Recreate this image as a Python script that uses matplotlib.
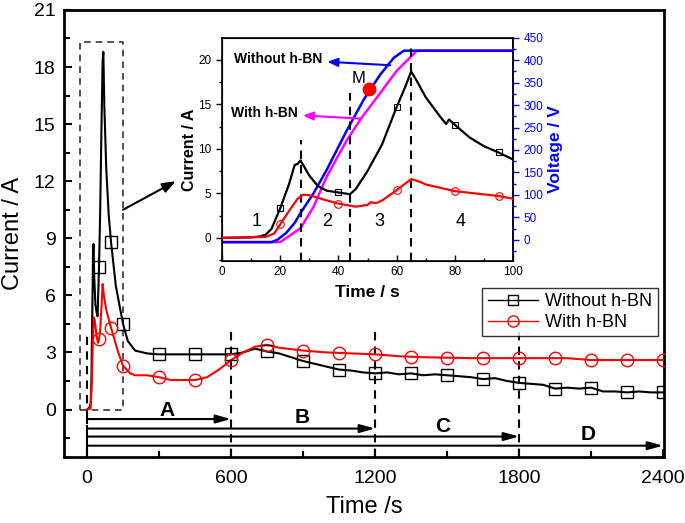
import numpy as np
import matplotlib
matplotlib.use('Agg')
import matplotlib.pyplot as plt
from matplotlib.lines import Line2D

plt.rcParams['font.family'] = ['Liberation Sans', 'DejaVu Sans']

# main curves (time in s, current in A)
tWithout = [0, 10, 15, 18, 20, 23, 25, 27, 30, 35, 40, 44, 50, 55, 60, 65, 68, 72, 80, 90, 100,
            120, 150, 170, 200, 250, 300, 400, 450, 500, 600, 650, 700, 750, 800, 900, 1000, 1050,
            1100, 1150, 1200, 1250, 1300, 1350, 1400, 1450, 1500, 1550, 1600, 1650, 1700, 1750,
            1800, 1850, 1900, 1950, 2000, 2050, 2100, 2150, 2200, 2250, 2300, 2350, 2400]
iWithout = [0, 0.1, 0.3, 1.2, 3.3, 6.0, 8.2, 8.7, 7.0, 5.5, 5.1, 4.9, 7.5, 10.5, 14.7, 18.3, 18.8, 16.0, 12.7, 10.3, 8.8,
            6.5, 4.5, 3.6, 3.1, 2.95, 2.9, 2.9, 2.9, 2.9, 2.9, 3.0, 3.2, 3.05, 2.95, 2.55, 2.25, 2.1,
            2.05, 1.95, 1.9, 1.95, 1.85, 1.9, 1.8, 1.85, 1.8, 1.75, 1.7, 1.6, 1.65, 1.5,
            1.4, 1.35, 1.3, 1.1, 1.15, 1.1, 1.15, 0.95, 0.95, 0.9, 0.95, 0.9, 0.9]
tWith = [0, 15, 20, 24, 28, 32, 40, 46, 50, 55, 60, 65, 70, 80, 100, 130, 150, 180, 200, 250,
         300, 350, 450, 500, 550, 600, 650, 700, 750, 800, 900, 1000, 1100, 1200, 1300, 1400,
         1600, 1800, 2000, 2100, 2400]
iWith = [0, 0.05, 1.5, 3.5, 4.85, 4.7, 3.85, 3.5, 3.7, 4.2, 5.35, 6.6, 6.0, 5.25, 4.3, 3.0, 2.3, 1.9, 1.8, 1.8,
         1.7, 1.55, 1.55, 1.7, 2.1, 2.6, 3.0, 3.3, 3.4, 3.25, 3.1, 3.0, 2.95, 2.9, 2.8, 2.75,
         2.7, 2.7, 2.7, 2.6, 2.6]
markTimes = [50, 100, 150, 300, 450, 600, 750, 900, 1050, 1200, 1350, 1500, 1650, 1800, 1950, 2100, 2250, 2400]

# inset: first 100 s
tInWithout = [0, 10, 13, 15, 17, 20, 23, 25, 26, 27, 30, 33, 36, 40, 44, 46, 50, 55, 60, 63, 65, 67,
              70, 75, 77, 78, 80, 85, 90, 95, 100]
iInWithout = [0, 0.05, 0.15, 0.35, 1.0, 3.3, 6.0, 8.2, 8.3, 8.7, 7.0, 5.8, 5.3, 5.1, 4.9, 5.5, 7.5, 10.5, 14.7, 17.0, 18.7, 17.6,
              15.8, 13.6, 12.8, 13.3, 12.7, 11.3, 10.3, 9.6, 8.8]
tInWith = [0, 15, 18, 20, 23, 26, 28, 30, 35, 40, 46, 50, 51, 53, 55, 60, 65, 68, 70, 80, 95, 100]
iInWith = [0, 0.1, 0.5, 1.5, 3.0, 4.4, 4.85, 4.8, 4.3, 3.85, 3.5, 3.7, 4.0, 3.9, 4.2, 5.35, 6.6, 6.3, 6.0, 5.25, 4.7, 4.4]
tVolt = [0, 17, 19, 22, 25, 27, 31.5, 36, 43, 48.7, 54.4, 59, 62.5, 100]
vWithout = [-5, -5, 0, 15, 38, 60, 104, 156, 245, 312, 368, 405, 421, 421]
tVoltWith = [0, 20, 23, 27, 31.5, 36, 43, 48, 54.4, 60, 67, 100]
vWith = [-5, -5, 8, 26, 74, 141, 223, 272, 327, 376, 421, 421]
inMarkWithout = [20, 40, 60, 80, 95]
inMarkWith = [20, 40, 60, 80, 95]
stageEdges = [27, 44, 65]
stageNames = ['1', '2', '3', '4']
stagePos = [11.8, 36, 54, 82]

fig = plt.figure(figsize=(6.85, 5.23), dpi=100)
ax = fig.add_axes([0.0934, 0.126, 0.876, 0.855])

ax.plot(tWithout, iWithout, color='k', lw=1.5, zorder=3)
ax.plot(markTimes, np.interp(markTimes, tWithout, iWithout), ls='none', marker='s', ms=8,
        mfc='none', mec='k', mew=1.0, zorder=4)
ax.plot(tWith, iWith, color='red', lw=1.5, zorder=3)
ax.plot(markTimes, np.interp(markTimes, tWith, iWith), ls='none', marker='o', ms=9,
        mfc='none', mec='red', mew=1.0, zorder=4)

ax.set_xlim(-96, 2404)
ax.set_ylim(-2.5, 21)
ax.set_xticks([0, 600, 1200, 1800, 2400])
ax.set_xticks([300, 900, 1500, 2100], minor=True)
ax.set_yticks(np.arange(0, 22, 3))
ax.set_yticks(np.arange(-1.5, 21, 3), minor=True)
ax.tick_params(which='both', direction='in', labelsize=14, width=1.5)
ax.tick_params(which='major', length=6)
ax.tick_params(which='minor', length=4)
ax.tick_params(axis='x', pad=9)
ax.tick_params(axis='y', pad=6)
for s in ax.spines.values():
    s.set_linewidth(2)
ax.set_xlabel('Time /s', fontsize=17, labelpad=7)
ax.set_ylabel('Current / A', fontsize=17)
ax.yaxis.set_label_coords(-0.066, 0.5)

# dashed box around the first 150 s and arrow towards the inset
ax.plot([-30, 150, 150, -30, -30], [0, 0, 19.3, 19.3, 0], ls=(0, (4, 3)), color='#333333', lw=1.2)
ax.annotate('', xy=(370, 12.0), xytext=(150, 10.5),
            arrowprops=dict(arrowstyle='-|>,head_length=0.8,head_width=0.3', color='k', lw=1.5,
                            shrinkA=0, shrinkB=0))

# stage lines and arrows
ax.plot([0, 0], [-0.45, 3.85], ls=(0, (4, 3)), color='k', lw=1.5)
ax.plot([0, 0], [-2.5, -0.85], color='k', lw=1.5)
ax.plot([0, 0], [-0.3, -0.7], color='k', lw=1.5)
for x, top in zip([600, 1200, 1800], [4.3, 4.4, 4.6]):
    ax.plot([x, x], [-2.5, top], ls=(0, (4, 3)), color='k', lw=1.5, zorder=1)
for end, y, name, lx, ly in zip([600, 1200, 1800, 2400], [-0.5, -1.0, -1.42, -1.9],
                                ['A', 'B', 'C', 'D'], [333, 895, 1482, 2086], [-0.05, -0.4, -0.9, -1.3]):
    ax.annotate('', xy=(end, y), xytext=(0, y),
                arrowprops=dict(arrowstyle='-|>,head_length=0.9,head_width=0.25', color='k', lw=1.5,
                                shrinkA=0, shrinkB=0))
    ax.text(lx, ly, name, fontsize=15, fontweight='bold', ha='center', va='center')

handles = [Line2D([], [], color='k', lw=1.0, marker='s', ms=7, mfc='none', mec='k'),
           Line2D([], [], color='red', lw=1.0, marker='o', ms=8, mfc='none', mec='red')]
leg = ax.legend(handles, ['Without h-BN', 'With h-BN'], loc='lower right', bbox_to_anchor=(0.99, 0.27),
                fontsize=13, frameon=True, fancybox=False, edgecolor='k', handlelength=2.8,
                borderpad=0.3, labelspacing=0.2, handletextpad=0.4, borderaxespad=0)
leg.get_frame().set_linewidth(1.0)

# inset
axi = fig.add_axes([0.324, 0.501, 0.425, 0.427])
axi.plot(tInWithout, iInWithout, color='k', lw=1.6, zorder=3)
axi.plot(inMarkWithout, np.interp(inMarkWithout, tInWithout, iInWithout), ls='none', marker='s', ms=5,
         mfc='none', mec='k', mew=0.8, zorder=4)
axi.plot(tInWith, iInWith, color='red', lw=1.6, zorder=3)
axi.plot(inMarkWith, np.interp(inMarkWith, tInWith, iInWith), ls='none', marker='o', ms=5.5,
         mfc='none', mec='red', mew=0.8, zorder=4)
for x, top in zip(stageEdges, [11.0, 16.3, 21.8]):
    axi.plot([x, x], [-2.6, top], ls=(0, (4, 3)), color='k', lw=1.5)
for name, x in zip(stageNames, stagePos):
    axi.text(x, 1.8, name, fontsize=13, ha='center', va='center')
axi.set_xlim(0, 100)
axi.set_ylim(-2.6, 22.5)
axi.set_xticks(np.arange(0, 101, 20))
axi.set_xticks(np.arange(10, 100, 20), minor=True)
axi.set_yticks(np.arange(0, 21, 5))
axi.set_yticks(np.arange(-2.5, 22, 5), minor=True)
axi.tick_params(which='both', labelsize=8.5, width=1)
axi.tick_params(axis='x', which='both', direction='in')
axi.tick_params(axis='y', which='both', direction='out')
axi.tick_params(which='major', length=4)
axi.tick_params(which='minor', length=2.5)
axi.set_xlabel('Time / s', fontsize=12.5, fontweight='bold', labelpad=5)
axi.set_ylabel('Current / A', fontsize=11.5, fontweight='bold', labelpad=1)
for s in axi.spines.values():
    s.set_linewidth(1.2)

axv = axi.twinx()
axv.plot(tVolt, vWithout, color='blue', lw=1.8, zorder=3)
axv.plot(tVoltWith, vWith, color='magenta', lw=1.8, zorder=2)
axv.set_ylim(-47, 450)
axv.set_yticks(np.arange(0, 451, 50))
axv.set_yticks(np.arange(-25, 450, 25), minor=True)
axv.tick_params(which='both', direction='out', colors='blue', labelsize=8.5, width=1)
axv.tick_params(which='major', length=4)
axv.tick_params(which='minor', length=2.5)
axv.spines['right'].set_color('blue')
axv.spines['right'].set_linewidth(1.2)
axv.set_ylabel('Voltage / V', fontsize=12.5, fontweight='bold', color='blue', labelpad=3)

# point M, given in current units and placed on the current axis
axi.plot([50.4], [16.7], ls='none', marker='o', ms=9, color='red', zorder=6)
axi.text(47, 17.9, 'M', fontsize=12, ha='center', va='center', zorder=6)
axi.set_zorder(axv.get_zorder() + 1)
axi.patch.set_visible(False)

axi.annotate('Without h-BN', xy=(57.8, 19.4), xytext=(4, 20.1), fontsize=10, fontweight='bold',
             va='center', ha='left',
             arrowprops=dict(arrowstyle='<|-,head_length=0.6,head_width=0.25', color='blue', lw=1.5,
                             shrinkA=2, shrinkB=0))
axi.annotate('With h-BN', xy=(47.5, 13.4), xytext=(3, 14.0), fontsize=10, fontweight='bold',
             va='center', ha='left',
             arrowprops=dict(arrowstyle='<|-,head_length=0.6,head_width=0.25', color='magenta', lw=1.5,
                             shrinkA=2, shrinkB=0))

fig.savefig('out.png', dpi=100)
